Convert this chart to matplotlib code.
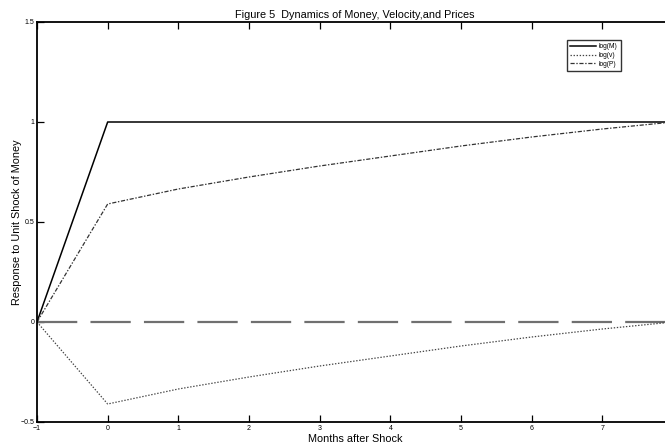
import matplotlib
matplotlib.use("Agg")
import matplotlib.pyplot as plt

plt.rcParams['font.family'] = ['Liberation Sans', 'DejaVu Sans']
plt.rcParams['lines.scale_dashes'] = False

months = [-1, 0, 1, 2, 3, 4, 5, 6, 7, 8]
log_m = [0, 1, 1, 1, 1, 1, 1, 1, 1, 1]
log_v = [0, -0.41, -0.335, -0.275, -0.22, -0.17, -0.12, -0.075, -0.035, 0.0]
log_p = [0, 0.59, 0.665, 0.725, 0.78, 0.83, 0.88, 0.925, 0.965, 1.0]
zero_line = [0] * len(months)
xticks = [-1, 0, 1, 2, 3, 4, 5, 6, 7, 8]
xtick_labels = ["\u22121", "0", "1", "2", "3", "4", "5", "6", "7", ""]
yticks = [-0.5, 0, 0.5, 1, 1.5]
ytick_labels = ["\u22120.5", "0", "0.5", "1", "1.5"]

fig = plt.figure(figsize=(6.65, 4.46), dpi=100)
ax = fig.add_axes([37/665, 24/446, (673-37)/665, 400/446])

ax.plot(months, zero_line, color='#707070', lw=1.6, dashes=(29, 9.5))
l1, = ax.plot(months, log_m, color='black', lw=1.1, label='log(M)')
l2, = ax.plot(months, log_v, color='#444444', lw=0.9, ls=(0, (1, 1.2)), label='log(v)')
l3, = ax.plot(months, log_p, color='#333333', lw=0.9, ls=(0, (3, 1.2, 1, 1.2)), label='log(P)')

ax.set_xlim(-1, 8)
ax.set_ylim(-0.5, 1.5)
ax.set_xticks(xticks)
ax.set_xticklabels(xtick_labels)
ax.set_yticks(yticks)
ax.set_yticklabels(ytick_labels)
ax.tick_params(direction='in', length=5, width=0.9, labelsize=5, top=True, right=True, pad=2)
for s in ax.spines.values():
    s.set_linewidth(1.3)

ax.set_title('Figure 5  Dynamics of Money, Velocity,and Prices', fontsize=7.8, pad=3)
ax.set_xlabel('Months after Shock', fontsize=7.8)
ax.set_ylabel('Response to Unit Shock of Money', fontsize=7.8)
ax.xaxis.set_label_coords(0.5, -0.029)
ax.yaxis.set_label_coords(-0.024, 0.5)

leg = ax.legend(handles=[l1, l2, l3], loc='upper left', bbox_to_anchor=(530/636, 1 - 18/400),
                fontsize=4.8, frameon=True, fancybox=False, handlelength=3.8,
                borderpad=0.5, labelspacing=0.25, handletextpad=0.5, borderaxespad=0)
leg.get_frame().set_edgecolor('black')
leg.get_frame().set_linewidth(1.0)

fig.savefig('out.png', dpi=100)
